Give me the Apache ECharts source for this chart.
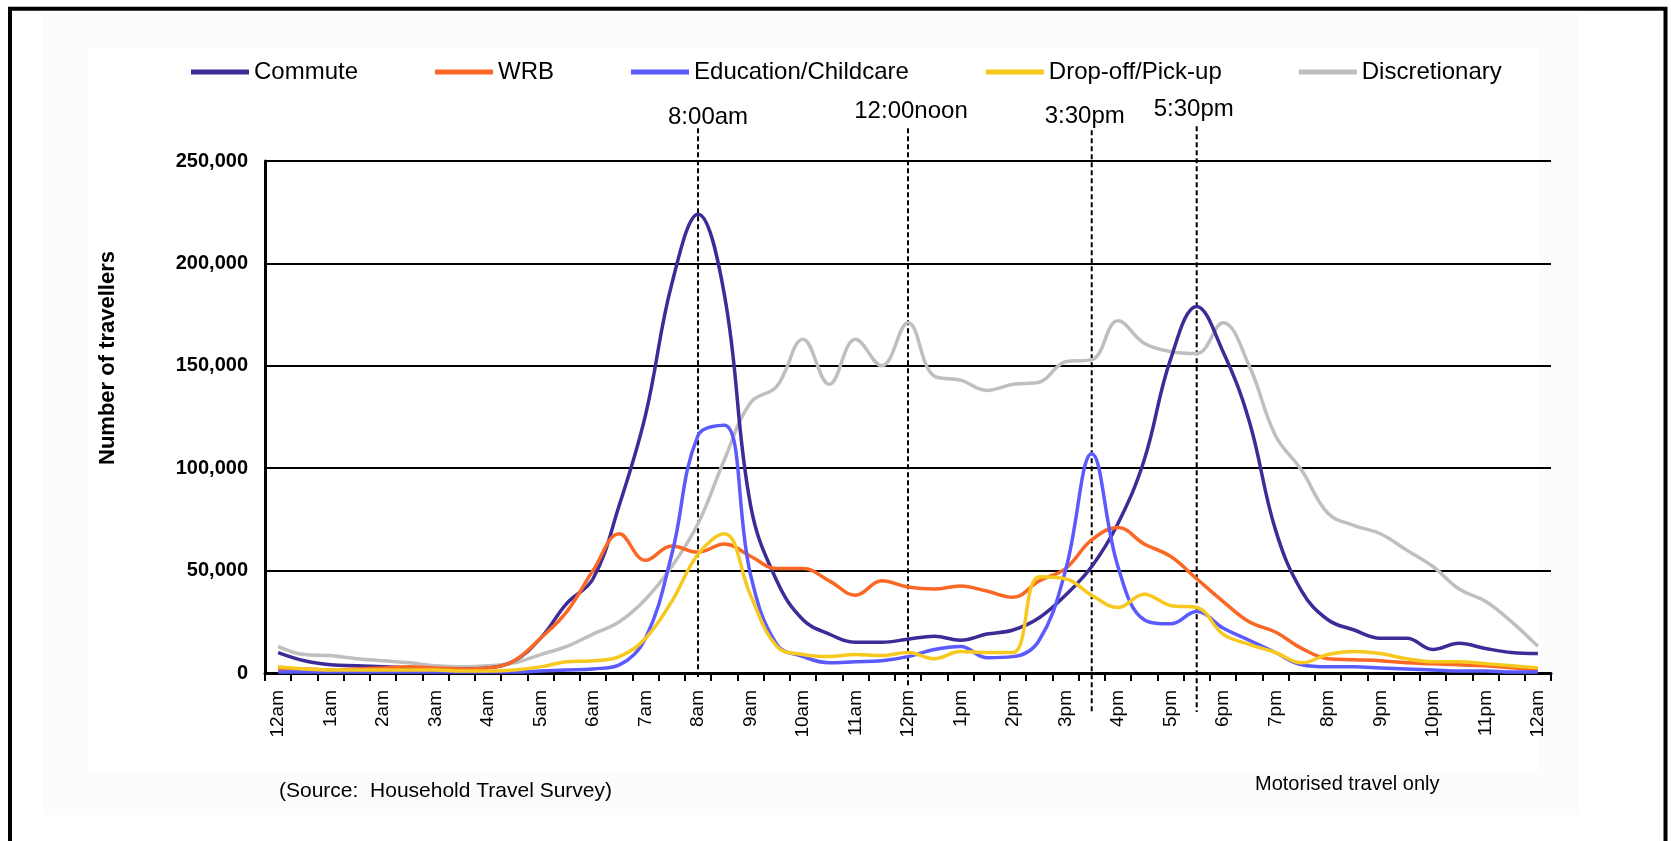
<!DOCTYPE html>
<html><head><meta charset="utf-8">
<script src="https://cdn.jsdelivr.net/npm/echarts@6/dist/echarts.min.js"></script>
<style>html,body{margin:0;padding:0;background:#fff}#chart{width:1671px;height:841px}</style>
</head><body><div id="chart"></div>
<script>
// Half-hourly time slots (49 categories, 12am to 12am)
const timeSlots = ['12am','12:30am','1am','1:30am','2am','2:30am','3am','3:30am','4am','4:30am','5am','5:30am',
  '6am','6:30am','7am','7:30am','8am','8:30am','9am','9:30am','10am','10:30am','11am','11:30am',
  '12pm','12:30pm','1pm','1:30pm','2pm','2:30pm','3pm','3:30pm','4pm','4:30pm','5pm','5:30pm',
  '6pm','6:30pm','7pm','7:30pm','8pm','8:30pm','9pm','9:30pm','10pm','10:30pm','11pm','11:30pm',
  '12am'];

const seriesNames = ['Commute','WRB','Education/Childcare','Drop-off/Pick-up','Discretionary'];

const commute = [10000, 6000, 4000, 3500, 3000, 2500, 2000, 2000, 2500, 6000, 17000, 34000,
  46000, 82000, 126000, 190000, 224000, 185000, 82000, 45000, 26000, 19000, 15000, 15000,
  16500, 18000, 16000, 19000, 21000, 27000, 38000, 52000, 73000, 104000, 153000, 179000,
  157000, 123000, 70000, 40000, 26000, 21000, 17000, 17000, 11500, 14500, 12000, 10000,
  9500];

const wrb = [2000, 2000, 1500, 2000, 2500, 3000, 2500, 2000, 2500, 6000, 17000, 30000,
  50000, 68000, 55000, 62000, 59000, 63000, 57000, 51000, 51000, 45000, 38000, 45000,
  42000, 41000, 42500, 40000, 37000, 45000, 51000, 65000, 71000, 63000, 57000, 46000,
  35000, 25000, 20000, 12000, 7000, 6500, 6000, 5000, 4500, 4000, 3500, 2500,
  1500];

const education = [500, 500, 500, 500, 500, 500, 500, 500, 500, 500, 1000, 1500,
  2000, 4000, 17000, 58000, 116000, 121000, 48000, 14000, 8000, 5000, 5500, 6000,
  8000, 11500, 13000, 7500, 8000, 16000, 50000, 107000, 52000, 26000, 24000, 30000,
  22000, 16000, 10000, 4000, 3000, 3000, 2500, 2000, 1500, 1000, 1000, 500,
  500];

const dropoff = [3000, 2000, 1500, 1500, 1500, 1500, 1500, 1000, 1000, 1500, 3000, 5500,
  6000, 8000, 17000, 35000, 58000, 68000, 38000, 13000, 9000, 8000, 9000, 8500,
  10000, 7000, 10500, 10000, 10000, 47000, 46000, 38000, 32000, 38500, 33000, 32000,
  19000, 14000, 10000, 5000, 9000, 10500, 9500, 7000, 5500, 5500, 4500, 3500,
  2500];

const discretionary = [13000, 9000, 8500, 7000, 6000, 5000, 3500, 3000, 3500, 5000, 9000, 13000,
  19000, 25000, 36000, 52000, 73000, 104000, 132000, 140000, 163000, 141000, 163000, 150000,
  171000, 145000, 143000, 138000, 141000, 142000, 152000, 153000, 172000, 161000, 157000, 156000,
  171000, 150000, 116000, 99000, 78000, 72000, 68000, 60000, 52000, 41000, 35000, 25000,
  13000];

const yTicks = [0, 50000, 100000, 150000, 200000, 250000];

// Reference time markers (dashed lines)
const markerTimes = ['8am','12pm','3:30pm','5:30pm'];
const markerLabels = ['8:00am','12:00noon','3:30pm','5:30pm'];
const markerTop = [266000, 266000, 265000, 267000];
const markerBottom = [-2000, -7000, -19000, -19000];

// styles
const colors = ['#3d2c98','#fb6724','#5a5aff','#f7c81e','#bfbfbf'];
const labelDx = [10, 3, -7, -3];
const labelDy = [-11, -17, -14, -17];
const FONT = '"Liberation Sans", Arial, sans-serif';

const chart = echarts.init(document.getElementById('chart'), null, {renderer: 'canvas'});

const dataSets = [commute, wrb, education, dropoff, discretionary];
const drawOrder = [4, 0, 1, 2, 3];

const lineSeries = drawOrder.map(k => ({
  name: seriesNames[k],
  type: 'line',
  data: dataSets[k],
  smooth: 0.4,
  symbol: 'none',
  z: 3,
  lineStyle: {color: colors[k], width: 3.5},
  itemStyle: {color: colors[k]},
  emphasis: {disabled: true}
}));

const option = {
  animation: false,
  backgroundColor: '#ffffff',
  graphic: [
    {type: 'rect', z: -10, shape: {x: 42, y: 13, width: 1536, height: 802}, style: {fill: '#fcfcfc'}},
    {type: 'rect', z: -9, shape: {x: 88, y: 48, width: 1450, height: 724}, style: {fill: '#ffffff'}},
    {type: 'rect', z: 10, shape: {x: 10, y: 8.7, width: 1655.5, height: 900}, style: {fill: 'none', stroke: '#000', lineWidth: 4}},
    {type: 'text', x: 108, y: 358, rotation: Math.PI / 2,
      style: {text: 'Number of travellers', font: 'bold 22px ' + FONT, fill: '#000', align: 'center', verticalAlign: 'middle'}},
    {type: 'text', x: 279, y: 791,
      style: {text: '(Source:  Household Travel Survey)', font: '21px ' + FONT, fill: '#000', align: 'left', verticalAlign: 'middle'}},
    {type: 'text', x: 1255, y: 784,
      style: {text: 'Motorised travel only', font: '20px ' + FONT, fill: '#000', align: 'left', verticalAlign: 'middle'}}
  ],
  legend: {
    data: seriesNames,
    left: 186,
    top: 55,
    icon: 'rect',
    itemWidth: 58,
    itemHeight: 5,
    itemGap: 77,
    selectedMode: false,
    textStyle: {fontFamily: FONT, fontSize: 24, color: '#000'}
  },
  grid: {left: 265, right: 120, top: 161, bottom: 168, containLabel: false},
  xAxis: {
    type: 'category',
    data: timeSlots,
    boundaryGap: true,
    axisLine: {lineStyle: {color: '#000', width: 3}},
    axisTick: {show: true, interval: 0, length: 8, lineStyle: {color: '#000', width: 2}},
    axisLabel: {interval: 1, rotate: 90, margin: 17, fontFamily: FONT, fontSize: 19, color: '#000'},
    splitLine: {show: false}
  },
  yAxis: {
    type: 'value',
    min: yTicks[0],
    max: yTicks[yTicks.length - 1],
    interval: yTicks[1] - yTicks[0],
    axisLine: {show: true, lineStyle: {color: '#000', width: 3}},
    axisTick: {show: false},
    axisLabel: {margin: 17, fontFamily: FONT, fontSize: 20, fontWeight: 'bold', color: '#000',
      formatter: v => v.toLocaleString('en-US')},
    splitLine: {show: true, lineStyle: {color: '#000', width: 2}}
  },
  series: [
    {
      type: 'custom',
      name: 'markers',
      z: 2,
      clip: false,
      silent: true,
      encode: {x: 0, y: [1, 2]},
      data: markerTimes.map((t, k) => [t, markerTop[k], markerBottom[k]]),
      renderItem: function (params, api) {
        const idx = params.dataIndex;
        const top = api.coord([api.value(0), api.value(1)]);
        const bot = api.coord([api.value(0), api.value(2)]);
        return {
          type: 'group',
          children: [
            {type: 'line', shape: {x1: top[0], y1: top[1], x2: bot[0], y2: bot[1]},
              style: {stroke: '#000', lineWidth: 2, lineDash: [5, 3]}},
            {type: 'text', x: top[0] + labelDx[idx], y: top[1] + labelDy[idx],
              style: {text: markerLabels[idx], font: '24px ' + FONT, fill: '#000', align: 'center', verticalAlign: 'middle'}}
          ]
        };
      }
    }
  ].concat(lineSeries)
};

chart.setOption(option);
</script>
</body></html>
